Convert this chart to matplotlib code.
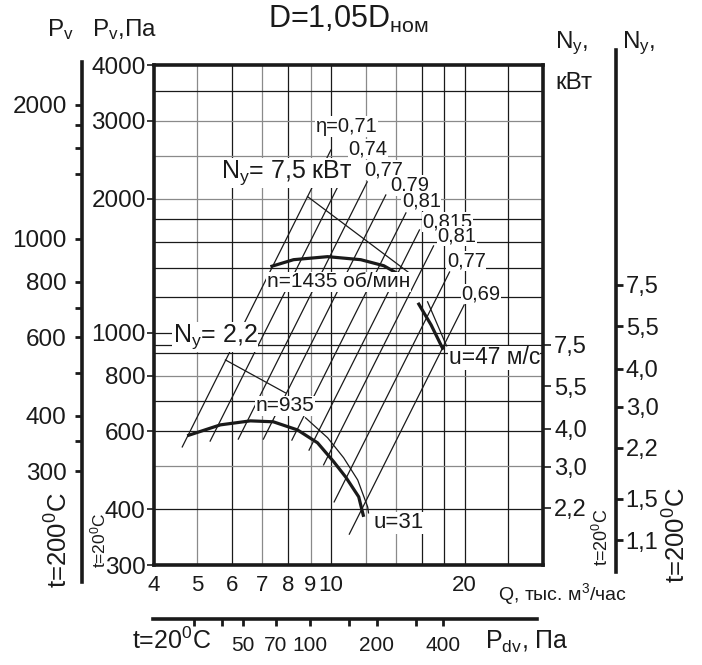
import numpy as np
import matplotlib
matplotlib.use('Agg')
import matplotlib.pyplot as plt
from matplotlib.transforms import blended_transform_factory

plt.rcParams['font.family'] = ['Liberation Sans', 'DejaVu Sans']
plt.rcParams['mathtext.fontset'] = 'custom'
plt.rcParams['mathtext.rm'] = 'Liberation Sans'
plt.rcParams['mathtext.it'] = 'Liberation Sans'
plt.rcParams['mathtext.bf'] = 'Liberation Sans:bold'

# Fan curves, Q in thousand m3/h, Pv in Pa (t = 20 C)
# n = 1435 rpm (the original has a gap in the curve)
q_1435_a = [7.31, 8.24, 9.83, 11.67, 13.15, 14.14]
p_1435_a = [1407, 1459, 1482, 1459, 1414, 1357]
q_1435_b = [15.7, 16.8, 17.9]
p_1435_b = [1167, 1041, 915]

# n = 935 rpm
q_935 = [4.75, 5.64, 6.59, 7.42, 8.41, 9.33, 10.15, 10.8, 11.55, 11.85]
p_935 = [586, 620, 633, 630, 604, 565, 512, 473, 427, 385]

# motor power limit lines (thin)
q_ny75_a = [8.86, 14.98]
p_ny75_a = [2023, 1364]
q_ny75_b = [16.5, 18.2]
p_ny75_b = [1173, 934]
q_ny22_a = [5.79, 7.90]
p_ny22_a = [868, 732]
q_ny22_b = [8.77, 9.83, 10.68, 11.49, 12.1, 12.15]
p_ny22_b = [643, 580, 523, 466, 405, 393]

# efficiency lines (P ~ Q^2), bottom and top ends
eta_labels = ['η=0,71', '0,74', '0,77', '0,79', '0,81', '0,815', '0,81', '0,77', '0,69']
eta_q_bot = [4.63, 5.35, 6.19, 7.05, 8.17, 8.93, 9.63, 10.17, 11.0]
eta_p_bot = [553, 570, 576, 576, 573, 544, 504, 416, 352]
eta_q_top = [10.0, 11.11, 12.07, 13.29, 14.75, 15.82, 17.02, 18.49, 19.94]
eta_p_top = [2576, 2446, 2183, 2040, 1859, 1702, 1567, 1369, 1154]

# axes ticks
q_ticks = [4, 5, 6, 7, 8, 9, 10, 20]
p_ticks = [300, 400, 600, 800, 1000, 2000, 3000, 4000]
grid_q = [5, 6, 7, 8, 9, 10, 12, 14, 16, 18, 20, 25]
grid_q_gray = [5, 7, 9, 12, 14]
grid_p = [400, 500, 600, 700, 800, 900, 1000, 1200, 1400, 1600, 1800, 2000, 2500, 3000, 3500]
grid_p_gray = [500, 800, 2000, 2500, 3000]

ny_ticks = [7.5, 5.5, 4.0, 3.0, 2.2]
ny200_ticks = [7.5, 5.5, 4.0, 3.0, 2.2, 1.5, 1.1]
pv200_ticks = [2000, 1800, 1600, 1400, 1000, 800, 700, 600, 500, 400, 350, 300]
pv200_labeled = [2000, 1000, 800, 600, 400, 300]
pdv_ticks = [30, 40, 50, 70, 100, 150, 200, 300, 400]
pdv_labeled = [50, 70, 100, 200, 400]

K_200 = 0.615      # Pv(200 C) / Pv(20 C)
Q_PDV100 = 9.0     # Q where Pdv = 100 Pa


def comma(v):
    return f'{v:.1f}'.replace('.', ',')


W, H = 702, 665
fig = plt.figure(figsize=(W / 100, H / 100), dpi=100)


def box(x0, y0, x1, y1):
    return [x0 / W, 1 - y1 / H, (x1 - x0) / W, (y1 - y0) / H]


INK = '#1a1a1a'
GRAY = '#8a8a8a'

ax = fig.add_axes(box(154, 65, 543, 565))
ax.set_xscale('log')
ax.set_yscale('log')
ax.set_xlim(4, 30)
ax.set_ylim(300, 4000)
for s in ax.spines.values():
    s.set_linewidth(2.6)
    s.set_color(INK)
ax.set_xticks(q_ticks, [str(v) for v in q_ticks])
ax.set_yticks(p_ticks, [str(v) for v in p_ticks])
ax.minorticks_off()
ax.tick_params(axis='x', length=0, pad=7, labelsize=16, colors=INK)
ax.tick_params(axis='y', length=5, width=1.2, pad=1, labelsize=17.5, colors=INK)

for q in grid_q:
    ax.axvline(q, color=GRAY if q in grid_q_gray else INK, lw=0.9, zorder=1)
for p in grid_p:
    ax.axhline(p, color=GRAY if p in grid_p_gray else INK, lw=0.9, zorder=1)

# inner power axis (t = 20 C)
ax_n = ax.twinx()
ax_n.set_yscale('log')
ax_n.set_ylim(1.432, 61.7)
for s in ax_n.spines.values():
    s.set_visible(False)
ax_n.set_yticks(ny_ticks, [comma(v) for v in ny_ticks])
ax_n.minorticks_off()
ax_n.tick_params(axis='y', length=6, width=1.2, pad=2, labelsize=17, colors=INK)

# level line for Ny = 7.5 on the inner scale
ax.plot([0, 1], [7.5, 7.5], color=INK, lw=0.9, zorder=1,
        transform=blended_transform_factory(ax.transAxes, ax_n.transData))

# efficiency lines
for qb, pb, qt, pt in zip(eta_q_bot, eta_p_bot, eta_q_top, eta_p_top):
    ax.plot([qb, qt], [pb, pt], color=INK, lw=0.9, zorder=2)

# thin power limit lines
for qs, ps in [(q_ny75_a, p_ny75_a), (q_ny75_b, p_ny75_b),
               (q_ny22_a, p_ny22_a), (q_ny22_b, p_ny22_b)]:
    ax.plot(qs, ps, color=INK, lw=0.9, zorder=2)

# fan curves
for qs, ps in [(q_1435_a, p_1435_a), (q_1435_b, p_1435_b), (q_935, p_935)]:
    ax.plot(qs, ps, color=INK, lw=2.3, solid_capstyle='butt', zorder=3)

wbox = dict(facecolor='white', edgecolor='none', pad=0.4)

# efficiency labels
eta_offsets = [(-11, 10), (-2, 1), (-2, 2), (3, 0), (-3, 2),
               (2, -1), (3, 0), (-2, 1), (-2, 1)]
for lab, qt, pt, off in zip(eta_labels, eta_q_top, eta_p_top, eta_offsets):
    ax.annotate(lab, (qt, pt), xytext=off, textcoords='offset points',
                ha='left', va='bottom', fontsize=14.5, color=INK,
                bbox=wbox, zorder=5)

ax.text(7.94, 2287, 'N$_\\mathrm{у}$= 7,5 кВт', ha='center', va='center',
        fontsize=18, color=INK, bbox=wbox, zorder=5)
ax.text(10.41, 1300, 'n=1435 об/мин', ha='center', va='center',
        fontsize=15, color=INK, bbox=wbox, zorder=5)
ax.text(5.49, 978, 'N$_\\mathrm{у}$= 2,2', ha='center', va='center',
        fontsize=18, color=INK, bbox=wbox, zorder=5)
ax.text(7.9, 684, 'n=935', ha='center', va='center',
        fontsize=15, color=INK, bbox=wbox, zorder=5)
ax.text(23.3, 877, 'u=47 м/с', ha='center', va='center',
        fontsize=16.5, color=INK, bbox=wbox, zorder=5)
ax.text(14.2, 373, 'u=31', ha='center', va='center',
        fontsize=16, color=INK, bbox=wbox, zorder=5)

# outer pressure axis (t = 200 C)
px_dec = 500 / np.log10(4000 / 300)
ax_l = fig.add_axes(box(82, 62, 83, 582))
ax_l.set_yscale('log')
ax_l.set_ylim(300 * 10 ** (-17 / px_dec) * K_200, 4000 * 10 ** (3 / px_dec) * K_200)
ax_l.patch.set_visible(False)
for k, s in ax_l.spines.items():
    s.set_visible(k == 'left')
ax_l.spines['left'].set_linewidth(2.6)
ax_l.spines['left'].set_color(INK)
ax_l.set_xticks([])
ax_l.set_yticks(pv200_ticks, [str(v) if v in pv200_labeled else '' for v in pv200_ticks])
ax_l.minorticks_off()
ax_l.tick_params(axis='y', length=5, width=2, pad=6, labelsize=17.5, colors=INK)

# outer power axis (t = 200 C)
ax_r = fig.add_axes(box(615, 50, 616, 572))
ax_r.set_yscale('log')
ax_r.set_ylim(0.865, 43.96)
ax_r.patch.set_visible(False)
for k, s in ax_r.spines.items():
    s.set_visible(k == 'right')
ax_r.spines['right'].set_linewidth(2.6)
ax_r.spines['right'].set_color(INK)
ax_r.set_xticks([])
ax_r.yaxis.tick_right()
ax_r.set_yticks(ny200_ticks, [comma(v) for v in ny200_ticks])
ax_r.minorticks_off()
ax_r.tick_params(axis='y', length=5, width=2, pad=2, labelsize=17, colors=INK)

# dynamic pressure axis, Pdv ~ Q^2
ax_d = fig.add_axes(box(153, 618, 537, 619))
ax_d.set_xscale('log')
q_left, q_right = 3.98, 29.3
ax_d.set_xlim(100 * (q_left / Q_PDV100) ** 2, 100 * (q_right / Q_PDV100) ** 2)
ax_d.patch.set_visible(False)
for k, s in ax_d.spines.items():
    s.set_visible(k == 'bottom')
ax_d.spines['bottom'].set_linewidth(2.6)
ax_d.spines['bottom'].set_color(INK)
ax_d.set_yticks([])
ax_d.set_xticks(pdv_ticks, [str(v) if v in pdv_labeled else '' for v in pdv_ticks])
ax_d.minorticks_off()
ax_d.tick_params(axis='x', length=5, width=2, pad=7, labelsize=15, colors=INK)

# captions
def ftext(x, y, s, **kw):
    kw.setdefault('color', INK)
    fig.text(x / W, 1 - y / H, s, **kw)

ftext(348, 19, 'D=1,05D$_\\mathrm{ном}$', ha='center', va='center', fontsize=22)
ftext(47, 30, 'P$_\\mathrm{v}$', ha='left', va='center', fontsize=17.5)
ftext(92, 30, 'P$_\\mathrm{v}$,Па', ha='left', va='center', fontsize=17.5)
ftext(555, 43, 'N$_\\mathrm{у}$,', ha='left', va='center', fontsize=17.5)
ftext(555, 83, 'кВт', ha='left', va='center', fontsize=17.5)
ftext(622, 43, 'N$_\\mathrm{у}$,', ha='left', va='center', fontsize=17.5)
ftext(59, 540, 't=200$^\\mathrm{0}$C', ha='center', va='center', fontsize=18.5, rotation=90)
ftext(98, 540, 't=20$^\\mathrm{0}$C', ha='center', va='center', fontsize=12.5, rotation=90)
ftext(602, 537, 't=20$^\\mathrm{0}$C', ha='center', va='center', fontsize=13, rotation=90)
ftext(677, 535, 't=200$^\\mathrm{0}$C', ha='center', va='center', fontsize=18.5, rotation=90)
ftext(562, 594, 'Q, тыс. м$^\\mathrm{3}$/час', ha='center', va='center', fontsize=14)
ftext(172, 641, 't=20$^\\mathrm{0}$C', ha='center', va='center', fontsize=18)
ftext(485, 642, 'P$_\\mathrm{dv}$, Па', ha='left', va='center', fontsize=18)

fig.savefig('out.png', dpi=100)
